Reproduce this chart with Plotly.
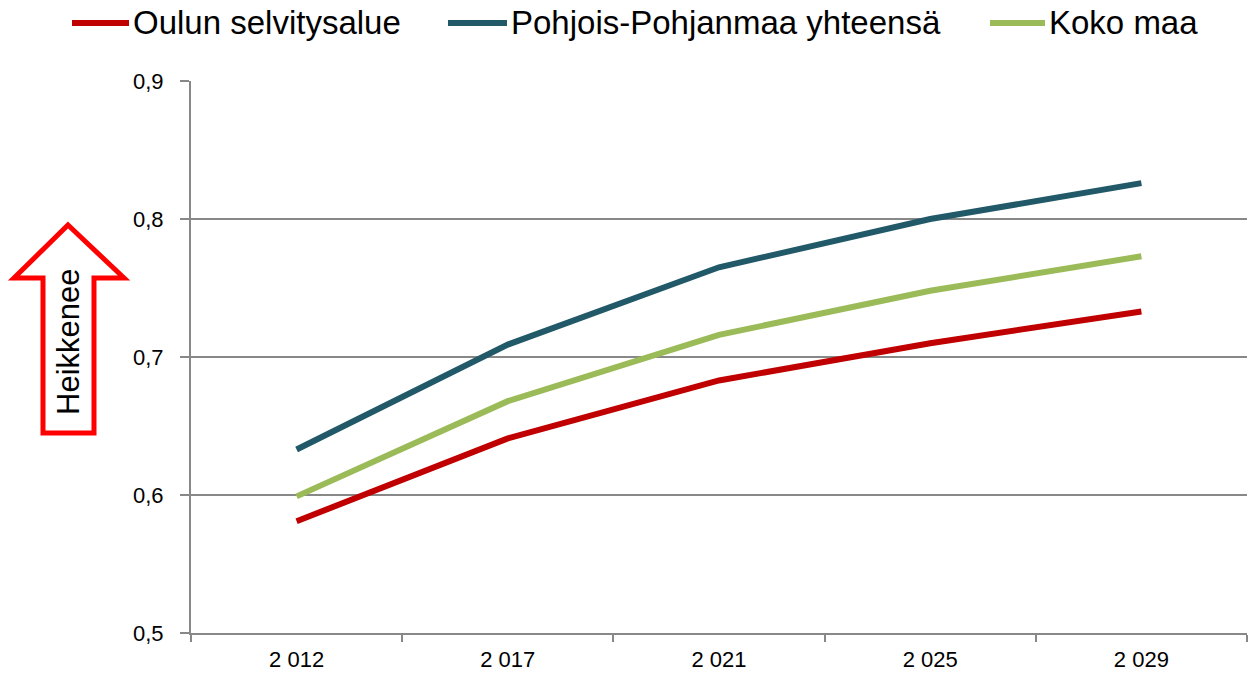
import plotly.graph_objects as go

years = ["2 012", "2 017", "2 021", "2 025", "2 029"]
oulu = [0.581, 0.641, 0.683, 0.710, 0.733]
pohjois = [0.633, 0.709, 0.765, 0.800, 0.826]
koko_maa = [0.599, 0.668, 0.716, 0.748, 0.773]
y_ticks = [0.5, 0.6, 0.7, 0.8, 0.9]
y_labels = ["0,5", "0,6", "0,7", "0,8", "0,9"]

series = [
    ("Oulun selvitysalue", oulu, "#C00000"),
    ("Pohjois-Pohjanmaa yhteensä", pohjois, "#215968"),
    ("Koko maa", koko_maa, "#9BBB59"),
]

W, H = 1248, 685
L, R, T, B = 191, 1, 81, 52
FONT = "Liberation Sans, Arial, sans-serif"
GREY = "#888888"


def px(x):
    return (x - L) / (W - L - R)


def py(y):
    return (H - B - y) / (H - T - B)


fig = go.Figure()
for name, vals, col in series:
    fig.add_trace(go.Scatter(x=years, y=vals, name=name, mode="lines",
                             line=dict(color=col, width=6)))

# legend drawn by hand to match the original spacing
legend_pos = [(72, 129), (448, 507), (990, 1045)]
shapes = []
annotations = []
for (x0, x1), (name, _, col) in zip(legend_pos, series):
    shapes.append(dict(type="line", xref="paper", yref="paper",
                       x0=px(x0), x1=px(x1), y0=py(23), y1=py(23),
                       line=dict(color=col, width=6)))
    annotations.append(dict(text=name, xref="paper", yref="paper",
                            x=px(x1 + 2), y=py(23), xanchor="left",
                            yanchor="middle", showarrow=False,
                            font=dict(size=33, color="black", family=FONT)))

# red hollow arrow with label
arrow = [(68, 225), (124, 278), (94, 278), (94, 433), (43, 433), (43, 278), (14, 278)]
path = "M " + " L ".join(f"{px(x):.5f},{py(y):.5f}" for x, y in arrow) + " Z"
shapes.append(dict(type="path", xref="paper", yref="paper", path=path,
                   line=dict(color="#FF0000", width=5), fillcolor="white"))
annotations.append(dict(text="Heikkenee", xref="paper", yref="paper",
                        x=px(68), y=py(342), textangle=-90, showarrow=False,
                        xanchor="center", yanchor="middle",
                        font=dict(size=31, color="black", family=FONT)))

fig.update_layout(
    width=W, height=H,
    margin=dict(l=L, r=R, t=T, b=B),
    plot_bgcolor="white", paper_bgcolor="white",
    showlegend=False,
    shapes=shapes, annotations=annotations,
    font=dict(family=FONT, color="black"),
    xaxis=dict(type="category", range=[-0.5, 4.5], tickson="boundaries",
               ticks="outside", ticklen=7, tickcolor=GREY, tickwidth=2,
               showline=True, linecolor=GREY, linewidth=2,
               showgrid=False, tickfont=dict(size=22),
               ticklabelstandoff=6),
    yaxis=dict(range=[0.5, 0.9], tickvals=y_ticks, ticktext=y_labels,
               ticks="outside", ticklen=9, tickcolor=GREY, tickwidth=2,
               showline=True, linecolor=GREY, linewidth=2,
               showgrid=True, gridcolor=GREY, gridwidth=1.5,
               zeroline=False, tickfont=dict(size=22),
               ticklabelstandoff=12),
)

fig.write_html("out.html", config={"displayModeBar": False},
               post_script="document.body.style.margin='0';")
